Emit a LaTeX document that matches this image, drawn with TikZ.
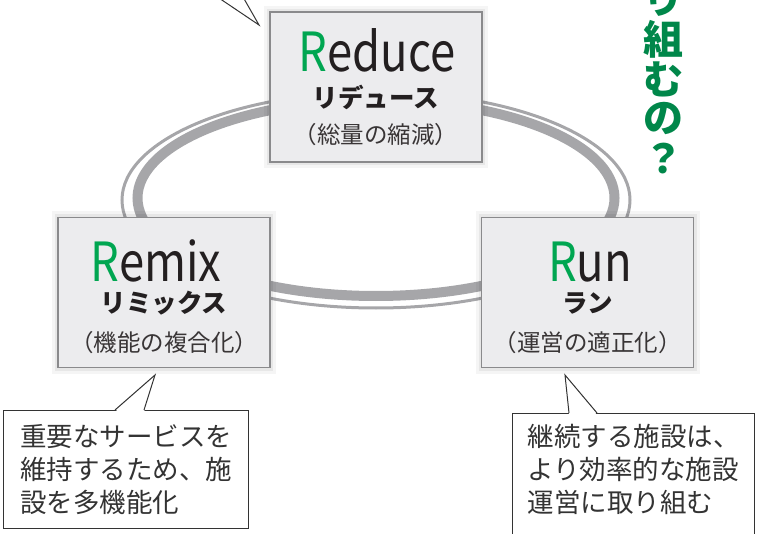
\documentclass[tikz,border=0pt]{standalone}
\usepackage{fontspec}
\setmainfont{Noto Sans CJK JP}
\usepackage{xcolor}

\definecolor{boxfill}{HTML}{ECECEE}
\definecolor{boxline}{HTML}{8A8A8C}
\definecolor{ringgray}{HTML}{A6A6A9}
\definecolor{rgreen}{HTML}{00A651}
\definecolor{askgreen}{HTML}{00874A}
\definecolor{inkgray}{HTML}{231F20}

\begin{document}
\begin{tikzpicture}[x=1pt, y=-1pt, thick]

			% Define style for boxes
			\tikzstyle{rbox} = [rectangle, draw=boxline, line width=1.1pt, fill=boxfill,
								minimum width=212pt, minimum height=150pt,
								preaction={draw=black, line width=12pt, opacity=0.04},
								preaction={draw=black, line width=6pt, opacity=0.06}]
			\tikzstyle{title} = [inner sep=0pt, anchor=base, text=inkgray,
								font=\fontsize{54}{54}\selectfont, xscale=0.84, transform shape]
			\tikzstyle{kana} = [inner sep=0pt, anchor=base, text=inkgray,
								font=\bfseries\fontsize{25.5}{25.5}\selectfont]
			\tikzstyle{sub} = [inner sep=0pt, anchor=base, text=inkgray!90,
								font=\fontsize{23.5}{23.5}\selectfont]
			\tikzstyle{note} = [rectangle, draw=black!80, line width=1pt, fill=white,
								anchor=north west, align=left, inner xsep=14pt,
								text=black!80, font=\fontsize{26.5}{33}\selectfont]
			\tikzstyle{ask} = [inner sep=0pt, text=askgreen,
								font=\bfseries\fontsize{40}{40}\selectfont]

			% Define style for the ring
			\tikzstyle{ring} = [draw=ringgray]

			\useasboundingbox (0,0) rectangle (762,534);
			\clip (0,0) rectangle (762,534);

			% Ring behind the boxes
			\path [ring, line width=3pt] (376,200) ellipse [x radius=254pt, y radius=108pt];
			\path [ring, line width=10pt] (376,198) ellipse [x radius=238.5pt, y radius=98pt];

			% Place nodes
			\node [rbox] (reduce) at (376,87) {};
			\node [rbox] (remix) at (164,292.5) {};
			\node [rbox] (run) at (587.5,292.5) {};

			\node [title] (reducetitle) at (377,72) {\textcolor{rgreen}{R}educe};
			\node [kana] (reducekana) at (376,107.5) {リデュース};
			\node [sub] (reducesub) at (376,144) {（総量の縮減）};

			\node [title] (remixtitle) at (156,282) {\textcolor{rgreen}{R}emix};
			\node [kana] (remixkana) at (164,312.5) {リミックス};
			\node [sub] (remixsub) at (164,351) {（機能の複合化）};

			\node [title] (runtitle) at (590,282) {\textcolor{rgreen}{R}un};
			\node [kana] (runkana) at (587.5,312.5) {ラン};
			\node [sub] (runsub) at (587.5,351) {（運営の適正化）};

			% Vertical question
			\node [ask] (ask1) at (663,-1) {り};
			\node [ask] (ask2) at (663,39) {組};
			\node [ask] (ask3) at (663,79) {む};
			\node [ask] (ask4) at (663,119) {の};
			\node [ask] (ask5) at (663,159) {？};

			% Callouts
			\node [note, minimum width=245pt, minimum height=118pt] (remixnote) at (3,410)
				{重要なサービスを\\維持するため、施\\設を多機能化};
			\node [note, minimum width=242pt, minimum height=150pt, text depth=40pt] (runnote) at (512,413)
				{継続する施設は、\\より効率的な施設\\運営に取り組む};

			\coordinate (remixtip) at (155,375);
			\coordinate (runtip) at (565,375);
			\coordinate (toptip) at (259,25);

			% Draw pointers
			\fill [white] (115,412) -- (remixtip) -- (144,412) -- cycle;
			\draw [black!80, line width=1pt] (115,410) -- (remixtip) -- (144,410);
			\fill [white] (569,415) -- (runtip) -- (597,415) -- cycle;
			\draw [black!80, line width=1pt] (569,413) -- (runtip) -- (597,413);
			\draw [black!80, line width=1pt] (207,-10) -- (toptip) -- (239,-10);
		\end{tikzpicture}
\end{document}
